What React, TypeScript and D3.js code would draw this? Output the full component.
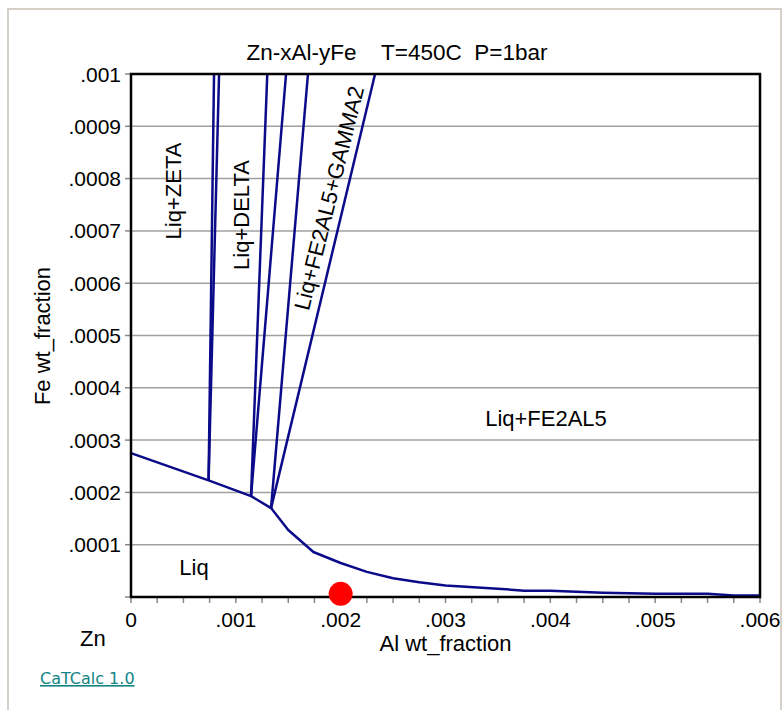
import React from "react";
import * as d3 from "d3";

// liquidus boundary (Al wt fraction, Fe wt fraction)
const liquidusAl = [0, 0.00074, 0.001145, 0.001336, 0.0015, 0.00174, 0.002, 0.00225, 0.0025, 0.00275, 0.003, 0.0035, 0.00375, 0.004, 0.0045, 0.005, 0.0055, 0.00575, 0.006];
const liquidusFe = [0.000275, 0.000223, 0.000193, 0.00017, 0.000128, 0.000086, 0.000065, 0.000048, 0.000036, 0.000028, 0.000022, 0.000016, 0.000012, 0.000012, 0.000008, 0.000006, 0.000006, 0.000003, 0.000003];

// two-phase boundaries: start on the liquidus, end at the top of the plot
const boundaryStartAl = [0.00074, 0.00074, 0.001145, 0.001145, 0.001336, 0.001336];
const boundaryStartFe = [0.000223, 0.000223, 0.000193, 0.000193, 0.00017, 0.00017];
const boundaryEndAl = [0.000792, 0.00084, 0.0013, 0.001479, 0.001688, 0.002328];
const boundaryEndFe = [0.001, 0.001, 0.001, 0.001, 0.001, 0.001];

// the composition marker
const pointAl = 0.002;
const pointFe = 0.000006;

const xTicks = [0, 0.001, 0.002, 0.003, 0.004, 0.005, 0.006];
const yTicks = [0.0001, 0.0002, 0.0003, 0.0004, 0.0005, 0.0006, 0.0007, 0.0008, 0.0009, 0.001];

const fmt = (v: number) => (v === 0 ? "0" : d3.format("~g")(v).replace(/^0\./, "."));

const App = () => {
  const left = 131, right = 760, top = 74, bottom = 597;
  const x = d3.scaleLinear().domain([0, 0.006]).range([left, right]);
  const y = d3.scaleLinear().domain([0, 0.001]).range([bottom, top]);

  const line = d3
    .line<[number, number]>()
    .x((d) => x(d[0]))
    .y((d) => y(d[1]));

  const liquidus = liquidusAl.map((a, i) => [a, liquidusFe[i]] as [number, number]);
  const boundaries = boundaryStartAl.map((a, i) => [
    [a, boundaryStartFe[i]],
    [boundaryEndAl[i], boundaryEndFe[i]],
  ] as [number, number][]);

  const minorTicks = d3.range(0, 0.006 + 1e-9, 0.00025);
  const font = "'Liberation Sans', Arial, sans-serif";
  const blue = "#0b0b8a";

  return (
    <svg width={783} height={710} style={{ position: "absolute", left: 0, top: 0, background: "#fff" }} fontFamily={font}>
      <rect x={8} y={9} width={773} height={720} fill="#fff" stroke="#d4d0c8" strokeWidth={2} />

      <text x={397} y={60} fontSize={22.5} textAnchor="middle" xmlSpace="preserve">
        {"Zn-xAl-yFe    T=450C  P=1bar"}
      </text>

      {/* grid */}
      {yTicks.slice(0, -1).map((t) => (
        <line key={"g" + t} x1={left} x2={right} y1={y(t)} y2={y(t)} stroke="#a0a0a0" strokeWidth={1.5} />
      ))}

      {/* y ticks + labels */}
      {[0, ...yTicks].map((t) => (
        <line key={"yt" + t} x1={left - 6} x2={left} y1={y(t)} y2={y(t)} stroke="#888" strokeWidth={1.5} />
      ))}
      {yTicks.map((t) => (
        <text key={"yl" + t} x={121} y={y(t)} dy="0.36em" fontSize={21} textAnchor="end">
          {fmt(t)}
        </text>
      ))}

      {/* x ticks + labels */}
      {minorTicks.map((t) => (
        <line key={"xt" + t} x1={x(t)} x2={x(t)} y1={bottom} y2={bottom + 6} stroke="#888" strokeWidth={1.5} />
      ))}
      {xTicks.map((t) => (
        <text key={"xl" + t} x={x(t)} y={627} fontSize={21} textAnchor="middle">
          {fmt(t)}
        </text>
      ))}

      {/* phase boundaries */}
      <path d={line(liquidus) || ""} fill="none" stroke={blue} strokeWidth={2.5} strokeLinejoin="round" />
      {boundaries.map((b, i) => (
        <path key={"b" + i} d={line(b) || ""} fill="none" stroke={blue} strokeWidth={2.5} />
      ))}

      <rect x={left} y={top} width={right - left} height={bottom - top} fill="none" stroke="#000" strokeWidth={2.5} />

      <circle cx={x(pointAl)} cy={y(pointFe)} r={12} fill="#ff0000" />

      {/* region labels */}
      <text transform="translate(173.5,191) rotate(-90)" dy="0.35em" fontSize={22} textAnchor="middle">Liq+ZETA</text>
      <text transform="translate(241.5,215) rotate(-90)" dy="0.35em" fontSize={22} textAnchor="middle">Liq+DELTA</text>
      <text transform="translate(329,198) rotate(-76)" dy="0.35em" fontSize={22} textAnchor="middle">Liq+FE2AL5+GAMMA2</text>
      <text x={546} y={426} fontSize={22} textAnchor="middle">Liq+FE2AL5</text>
      <text x={194} y={575} fontSize={22} textAnchor="middle">Liq</text>

      {/* axis titles */}
      <text x={80} y={646} fontSize={22}>Zn</text>
      <text x={(left + right) / 2} y={651} fontSize={22} textAnchor="middle">Al wt_fraction</text>
      <text transform="translate(42,336) rotate(-90)" dy="0.35em" fontSize={22} textAnchor="middle">Fe wt_fraction</text>

      <text x={40} y={684} fontSize={16} fill="#118585" textDecoration="underline" fontFamily="'DejaVu Sans', sans-serif">
        CaTCalc 1.0
      </text>
    </svg>
  );
};

export default App;
